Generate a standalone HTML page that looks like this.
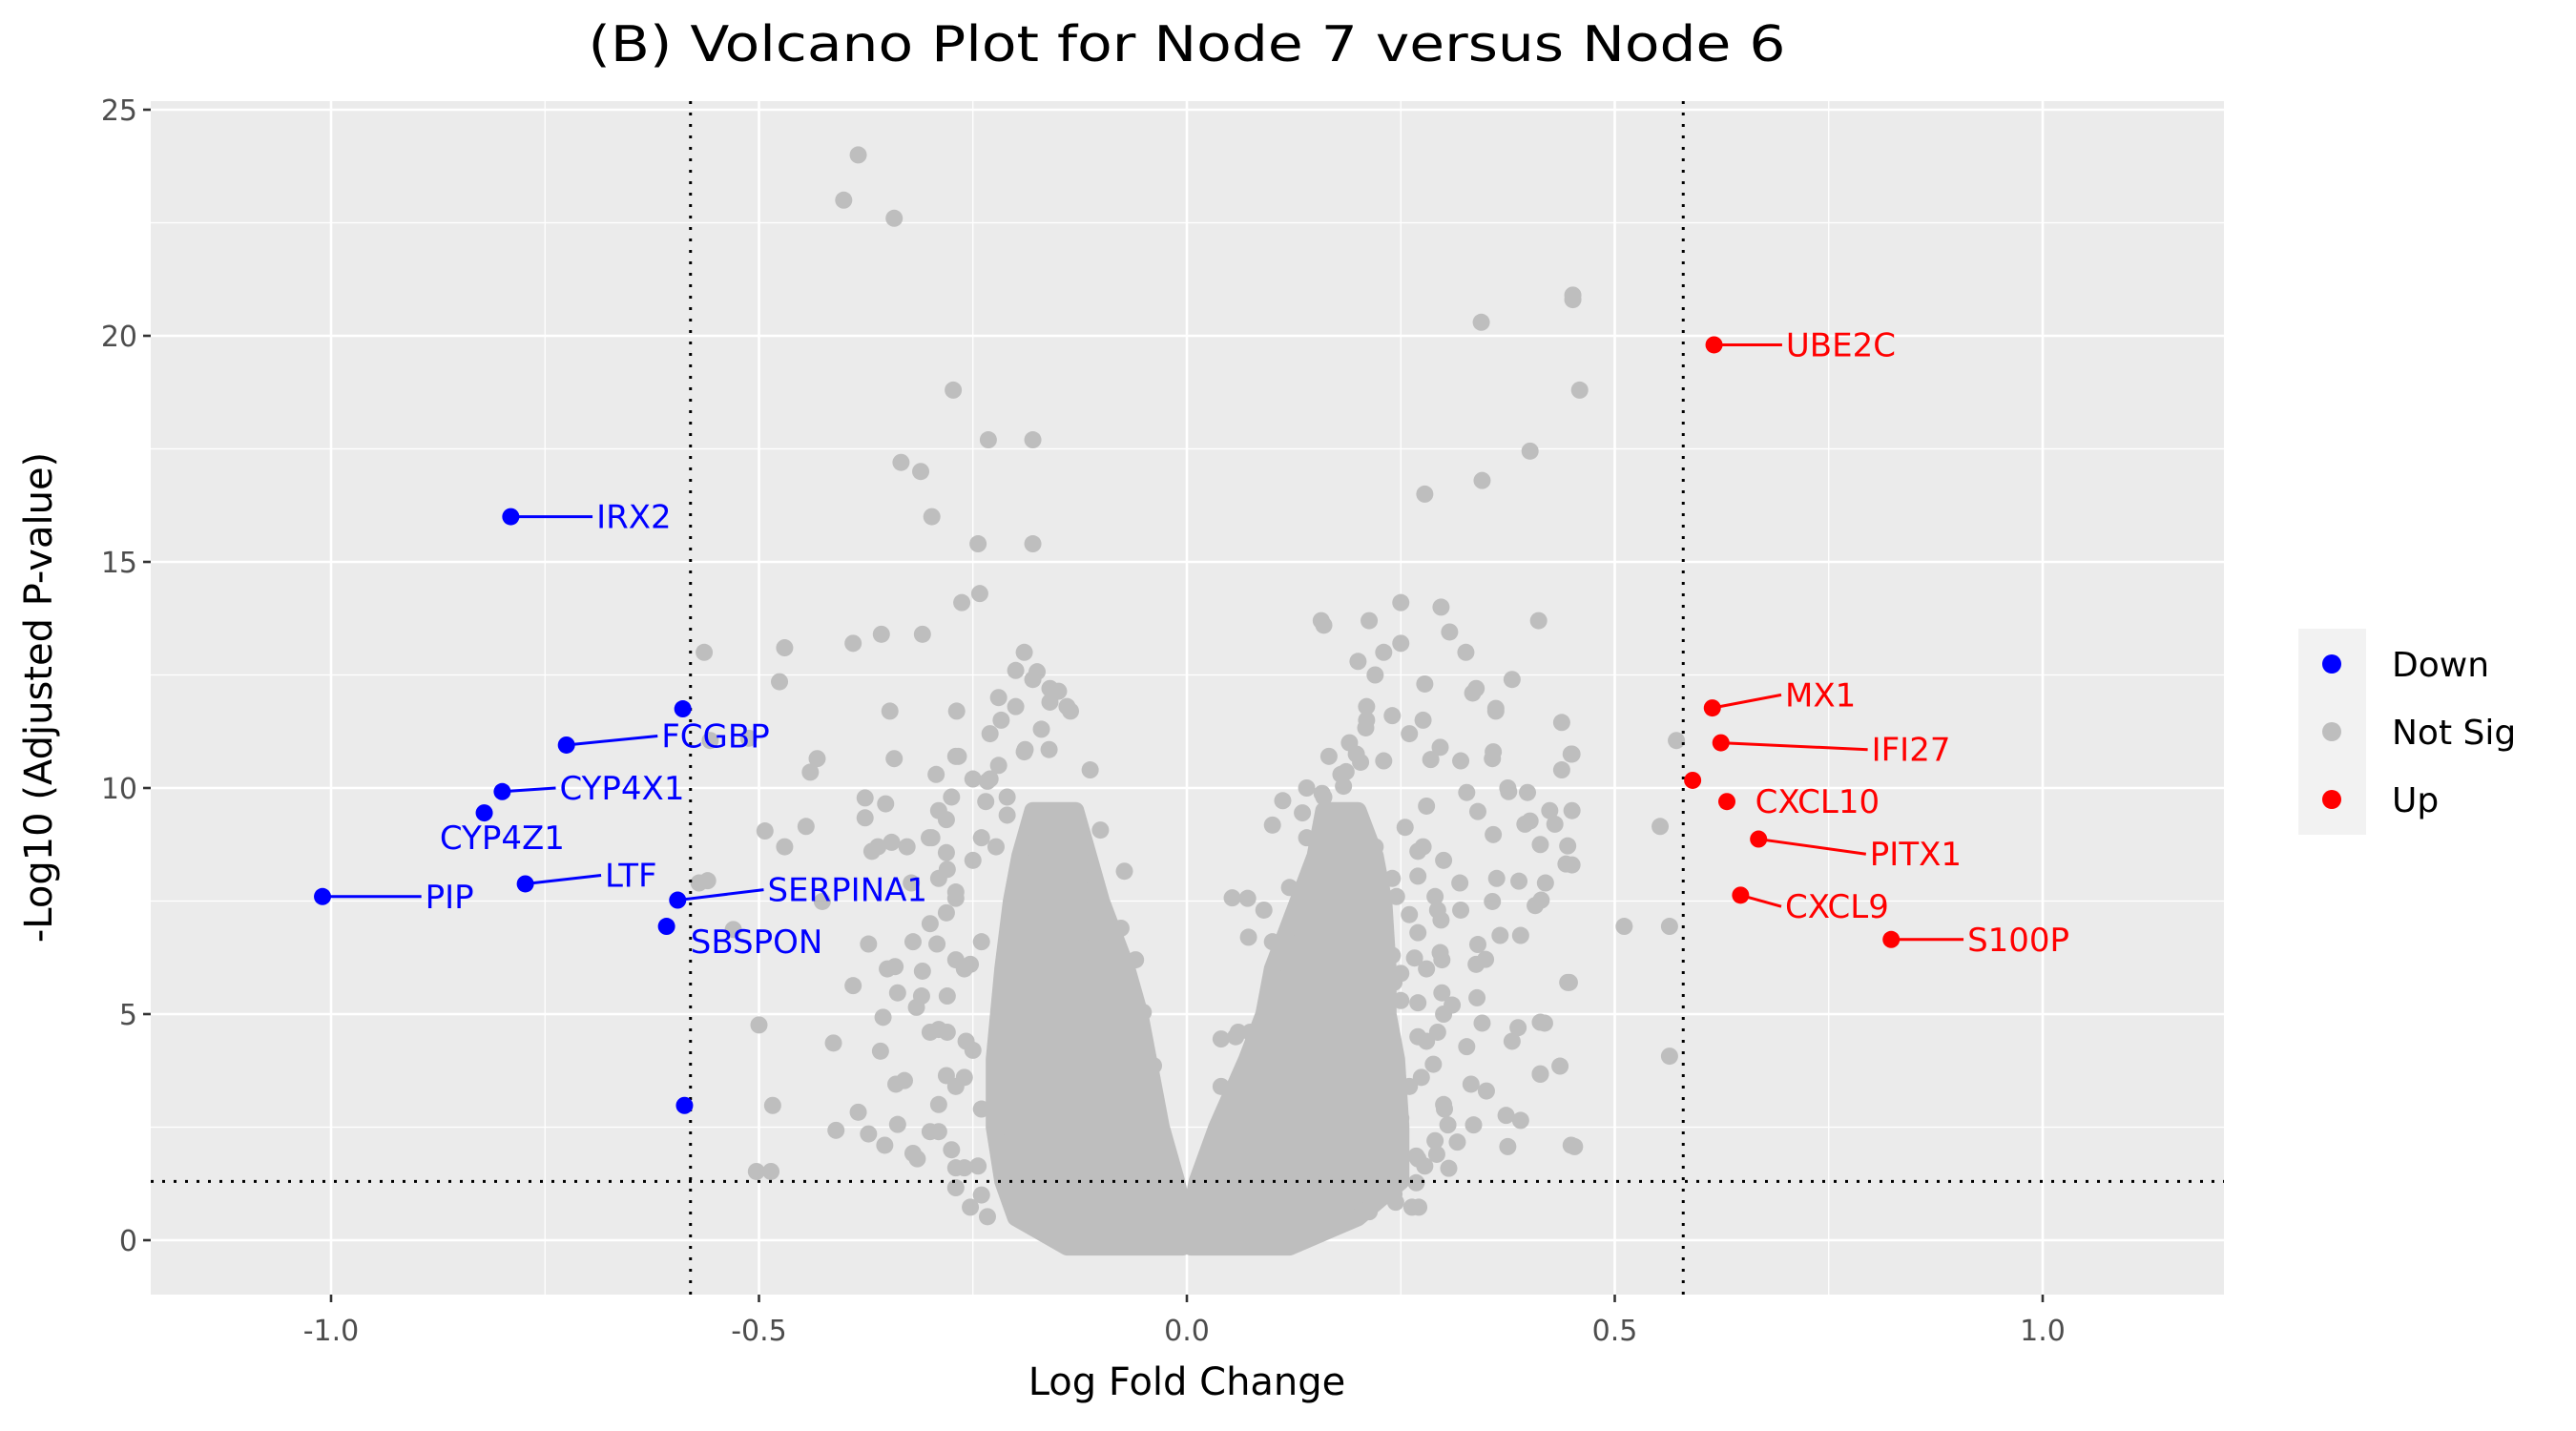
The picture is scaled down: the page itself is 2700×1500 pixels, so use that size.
<!DOCTYPE html>
<html><head><meta charset="utf-8"><style>
html,body{margin:0;padding:0;background:#fff;}
svg{display:block;font-family:"DejaVu Sans","Liberation Sans",sans-serif;}
</style></head><body>
<svg id="chart" width="2700" height="1500" viewBox="0 0 2700 1500" xmlns="http://www.w3.org/2000/svg">
<text x="1244" y="64" text-anchor="middle" font-size="52" textLength="1255" lengthAdjust="spacingAndGlyphs" fill="#000">(B) Volcano Plot for Node 7 versus Node 6</text>
<g id="plot"></g>
<text x="1244" y="1462" text-anchor="middle" font-size="40" fill="#000">Log Fold Change</text>
<text transform="translate(54,731) rotate(-90)" text-anchor="middle" font-size="40" fill="#000">-Log10 (Adjusted P-value)</text>
<g>
<rect x="2409" y="659" width="71" height="216" fill="#f2f2f2"/>
<circle cx="2444" cy="696" r="10" fill="#0000ff"/>
<text x="2507" y="709" font-size="36">Down</text>
<circle cx="2444" cy="767" r="10" fill="#bebebe"/>
<text x="2507" y="780" font-size="36">Not Sig</text>
<circle cx="2444" cy="838" r="10" fill="#ff0000"/>
<text x="2507" y="851" font-size="36">Up</text>
</g>
</svg>
<script>
const xTicks=[-1.0,-0.5,0.0,0.5,1.0];
const xTickLabels=["-1.0","-0.5","0.0","0.5","1.0"];
const yTicks=[0,5,10,15,20,25];
const yTickLabels=["0","5","10","15","20","25"];
const fcThreshold=0.58;
const pThreshold=1.3;
// dense cloud bands: y level, left cloud [min,max], right cloud [min,max]
const bandY=[-0.15,0.5,1.3,2.5,4,5,6,7.5,8.5,9.5];
const leftMin=[-0.14,-0.2,-0.215,-0.225,-0.225,-0.22,-0.215,-0.205,-0.195,-0.18];
const leftMax=[-0.005,-0.003,-0.012,-0.03,-0.045,-0.055,-0.07,-0.1,-0.115,-0.13];
const rightMin=[0.005,0.004,0.012,0.035,0.07,0.09,0.1,0.13,0.15,0.16];
const rightMax=[0.12,0.2,0.25,0.25,0.245,0.235,0.235,0.23,0.22,0.2];
// scattered non-significant genes
const grayX=[-0.384,-0.401,-0.342,-0.273,-0.232,-0.18,-0.334,-0.311,-0.298,-0.244,-0.18,-0.242,-0.263,-0.39,-0.357,-0.309,-0.47,-0.564,-0.476,-0.347,-0.432,-0.342,-0.27,-0.269,-0.557,-0.512,-0.44,-0.493,-0.445,-0.376,-0.376,-0.368,-0.345,-0.301,-0.47,-0.322,-0.56,-0.57,-0.53,-0.426,-0.5,-0.413,-0.484,-0.41,-0.503,-0.486,-0.384,-0.353,-0.39,-0.35,-0.34,-0.275,
-0.29,-0.28,-0.3,-0.27,-0.31,-0.28,-0.26,-0.29,-0.3,-0.27,-0.32,-0.25,-0.22,-0.2,-0.16,-0.14,-0.19,-0.23,-0.21,
-0.24,-0.25,-0.29,-0.27,-0.24,-0.26,-0.28,-0.3,-0.25,-0.27,-0.24,-0.29,-0.26,-0.24,-0.23,-0.19,-0.17,-0.21,-0.15,-0.13,-0.12,-0.09,-0.07,-0.05,-0.2,-0.18,-0.16,-0.22,
-0.293,-0.267,-0.275,-0.233,-0.281,-0.327,-0.298,-0.281,-0.352,-0.361,-0.27,-0.281,-0.292,-0.309,-0.341,-0.372,-0.338,-0.316,-0.355,-0.29,-0.253,-0.358,-0.33,-0.281,-0.258,-0.315,-0.338,-0.372,-0.32,-0.253,-0.233,-0.27,-0.244,-0.099,-0.077,-0.06,-0.051,-0.039,-0.073,-0.101,-0.113,-0.136,-0.15,-0.175,-0.217,-0.189,-0.161,-0.235,-0.223,
0.451,0.451,0.344,0.459,0.401,0.345,0.278,0.25,0.297,0.411,0.157,0.213,0.307,0.326,0.25,0.38,0.334,0.278,0.438,0.361,0.357,0.449,0.572,0.553,0.564,0.511,0.564,0.449,0.445,0.413,0.38,0.418,0.345,0.445,0.401,0.424,0.376,0.34,0.443,0.414,0.357,0.297,0.349,0.296,0.34,0.242,0.288,0.332,0.301,0.263,0.242,0.278,0.071,0.123,0.186,0.198,
0.28,0.3,0.29,0.27,0.31,0.28,0.26,0.3,0.29,0.27,0.32,0.22,0.24,0.26,0.2,0.16,0.14,0.23,0.21,
0.1,0.12,0.14,0.16,0.18,0.2,0.22,0.24,0.26,0.24,0.25,0.27,0.23,0.25,0.24,0.22,0.19,0.21,0.23,0.17,0.06,0.04,0.28,0.3,0.27,
0.053,0.09,0.072,0.1,0.112,0.135,0.158,0.166,0.203,0.183,0.209,0.276,0.296,0.285,0.338,0.361,0.358,0.375,0.327,0.398,0.45,0.438,0.45,0.43,0.395,0.358,0.413,0.45,0.419,0.388,0.362,0.319,0.293,0.32,0.407,0.39,0.366,0.338,0.298,0.298,0.339,0.447,0.387,0.413,0.327,0.293,0.436,0.413,0.35,0.373,0.39,0.335,0.305,0.316,0.375,0.453,0.292,0.306,0.244,0.271,0.213,0.268,0.268,0.274,0.27,0.25,0.266,0.255,0.276,0.245,0.27,0.04,0.057,0.074,0.1,0.111];
const grayY=[24.0,23.0,22.6,18.8,17.7,17.7,17.2,17.0,16.0,15.4,15.4,14.3,14.1,13.2,13.4,13.4,13.1,13.0,12.35,11.7,10.65,10.65,10.7,11.7,11.05,11.1,10.35,9.05,9.15,9.78,9.34,8.6,8.8,8.9,8.7,7.9,7.95,7.9,6.87,7.49,4.76,4.36,2.98,2.43,1.52,1.52,2.83,2.1,5.63,6.0,3.45,2.0,
9.5,8.2,7.0,6.2,5.4,4.6,3.6,3.0,2.4,1.6,6.6,10.2,12.0,12.6,12.2,11.8,13.0,11.2,9.4,
8.9,8.4,8.0,7.7,6.6,6.0,5.4,4.6,4.2,3.4,2.9,2.4,1.6,1.0,10.2,10.8,11.3,9.8,9.0,8.0,6.8,5.2,3.8,2.8,11.8,12.4,11.9,10.5,
10.3,10.7,9.8,10.15,9.3,8.7,8.9,8.57,9.65,8.7,7.56,7.24,6.55,5.95,6.05,6.55,5.47,5.15,4.93,4.66,6.1,4.18,3.53,3.64,4.4,1.8,2.56,2.35,1.92,0.73,0.52,1.16,1.64,6.55,6.9,6.2,5.04,3.86,8.16,9.07,10.4,11.7,12.14,12.57,11.5,10.85,10.85,9.7,8.7,
20.9,20.8,20.3,18.8,17.45,16.8,16.5,14.1,14.0,13.7,13.7,13.7,13.45,13.0,13.2,12.4,12.1,12.3,11.45,11.7,10.65,10.75,11.05,9.15,6.94,6.94,4.07,2.1,5.7,3.67,4.4,4.8,4.8,8.72,9.27,9.5,9.92,9.48,8.32,7.52,7.49,7.08,6.21,6.36,6.54,5.7,3.89,3.45,2.9,0.73,1.02,1.64,7.56,6.0,10.36,10.75,
9.6,8.4,7.6,6.8,5.2,4.4,3.4,3.0,2.2,1.8,10.6,12.5,11.6,11.2,12.8,13.6,10.0,13.0,11.8,
6.6,7.8,8.9,9.8,10.3,9.4,8.7,8.0,7.2,6.3,5.3,4.5,3.7,2.7,1.5,0.9,11.0,11.5,10.6,9.0,4.6,3.4,6.0,5.0,8.6,
7.57,7.3,6.7,9.18,9.72,9.45,9.88,10.7,10.57,10.04,11.33,11.5,10.9,10.63,12.2,11.76,10.8,10.0,9.9,9.9,10.75,10.4,9.5,9.2,9.2,8.97,8.75,8.3,7.9,7.94,8.0,7.9,7.3,7.3,7.4,6.74,6.74,6.1,6.2,5.47,5.36,5.7,4.7,4.82,4.28,4.6,3.85,3.68,3.3,2.76,2.65,2.55,2.55,2.17,2.07,2.07,1.9,1.59,0.84,0.73,0.63,1.27,1.86,3.6,5.25,5.9,6.24,9.13,8.7,7.6,8.05,4.45,4.5,4.6,5.74,6.3];
// significant genes
const downX=[-0.79,-0.589,-0.725,-0.80,-0.821,-0.773,-1.01,-0.595,-0.608,-0.587];
const downY=[16.0,11.75,10.95,9.92,9.45,7.88,7.6,7.52,6.94,2.98];
const upX=[0.616,0.614,0.624,0.591,0.631,0.668,0.647,0.823];
const upY=[19.8,11.77,11.0,10.17,9.7,8.87,7.63,6.65];
// labels: gene, point, label anchor position
const labelGenes=["IRX2","FCGBP","CYP4X1","CYP4Z1","LTF","PIP","SERPINA1","SBSPON","UBE2C","MX1","IFI27","CXCL10","PITX1","CXCL9","S100P"];
const labelPtX=[-0.79,-0.725,-0.80,-0.821,-0.773,-1.01,-0.595,-0.608,0.616,0.614,0.624,0.631,0.668,0.647,0.823];
const labelPtY=[16.0,10.95,9.92,9.45,7.88,7.6,7.52,6.94,19.8,11.77,11.0,9.7,8.87,7.63,6.65];
const labelX=[-0.69,-0.614,-0.733,-0.80,-0.68,-0.89,-0.49,-0.58,0.70,0.699,0.80,0.664,0.798,0.699,0.912];
const labelY=[16.0,11.15,10.0,8.9,8.07,7.6,7.75,6.6,19.8,12.06,10.85,9.7,8.54,7.38,6.65];
const labelDir=["down","down","down","down","down","down","down","down","up","up","up","up","up","up","up"];
const labelSeg=[1,1,1,0,1,1,1,0,1,1,1,0,1,1,1];

const NS="http://www.w3.org/2000/svg";
const PL=158,PR=2331,PT=106,PB=1357;
function sx(v){return 1244+v*897;}
function sy(v){return 1300-v*47.4;}
const g=document.getElementById('plot');
function mk(tag,attrs){const e=document.createElementNS(NS,tag);for(const k in attrs)e.setAttribute(k,attrs[k]);g.appendChild(e);return e;}

let bg=mk('rect',{x:PL,y:PT,width:PR-PL,height:PB-PT,fill:'#ebebeb'});


for(let i=0;i<xTicks.length-1;i++){const v=(xTicks[i]+xTicks[i+1])/2;let l=mk('line',{x1:sx(v),x2:sx(v),y1:PT,y2:PB,stroke:'#fff','stroke-width':1.3});

}
for(let i=0;i<yTicks.length-1;i++){const v=(yTicks[i]+yTicks[i+1])/2;let l=mk('line',{x1:PL,x2:PR,y1:sy(v),y2:sy(v),stroke:'#fff','stroke-width':1.3});

}
xTicks.forEach((v,i)=>{let l=mk('line',{x1:sx(v),x2:sx(v),y1:PT,y2:PB,stroke:'#fff','stroke-width':2.6});


let t=mk('line',{x1:sx(v),x2:sx(v),y1:PB,y2:PB+8,stroke:'#333','stroke-width':2.6});


let tx=mk('text',{x:sx(v),y:PB+48,'text-anchor':'middle','font-size':30,fill:'#4d4d4d'});tx.textContent=xTickLabels[i];

});
yTicks.forEach((v,i)=>{let l=mk('line',{x1:PL,x2:PR,y1:sy(v),y2:sy(v),stroke:'#fff','stroke-width':2.6});


let t=mk('line',{x1:PL-8,x2:PL,y1:sy(v),y2:sy(v),stroke:'#333','stroke-width':2.6});


let tx=mk('text',{x:PL-14,y:sy(v)+11,'text-anchor':'end','font-size':30,fill:'#4d4d4d'});tx.textContent=yTickLabels[i];

});

function cloud(mins,maxs,name){
 let pts=[];bandY.forEach((y,i)=>pts.push(sx(maxs[i])+','+sy(y)));
 for(let i=bandY.length-1;i>=0;i--)pts.push(sx(mins[i])+','+sy(bandY[i]));
 let p=mk('polygon',{points:pts.join(' '),fill:'#bebebe',stroke:'#bebebe','stroke-width':18,'stroke-linejoin':'round'});
 
 
}
cloud(leftMin,leftMax,'dense-cloud-left');
cloud(rightMin,rightMax,'dense-cloud-right');
grayX.forEach((x,i)=>{let c=mk('circle',{cx:sx(x),cy:sy(grayY[i]),r:9,fill:'#bebebe'});

});

[-fcThreshold,fcThreshold].forEach(v=>{let l=mk('line',{x1:sx(v),x2:sx(v),y1:PT,y2:PB,stroke:'#000','stroke-width':3,'stroke-dasharray':'3 9'});

});
let hl=mk('line',{x1:PL,x2:PR,y1:sy(pThreshold),y2:sy(pThreshold),stroke:'#000','stroke-width':3,'stroke-dasharray':'3 9'});



downX.forEach((x,i)=>{let c=mk('circle',{cx:sx(x),cy:sy(downY[i]),r:9,fill:'#0000ff'});

});
upX.forEach((x,i)=>{let c=mk('circle',{cx:sx(x),cy:sy(upY[i]),r:9,fill:'#ff0000'});

});

labelGenes.forEach((gname,i)=>{
 const col=labelDir[i]==='down'?'#0000ff':'#ff0000';
 if(labelSeg[i]){let l=mk('line',{x1:sx(labelPtX[i]),y1:sy(labelPtY[i]),x2:sx(labelX[i])-4,y2:sy(labelY[i]),stroke:col,'stroke-width':3});
 
 }
 let t=mk('text',{x:sx(labelX[i]),y:sy(labelY[i])+12,'font-size':34,fill:col,'text-anchor':gname==='CYP4Z1'?'middle':'start'});
 t.textContent=gname;
 
 
});
</script>
</body></html>
